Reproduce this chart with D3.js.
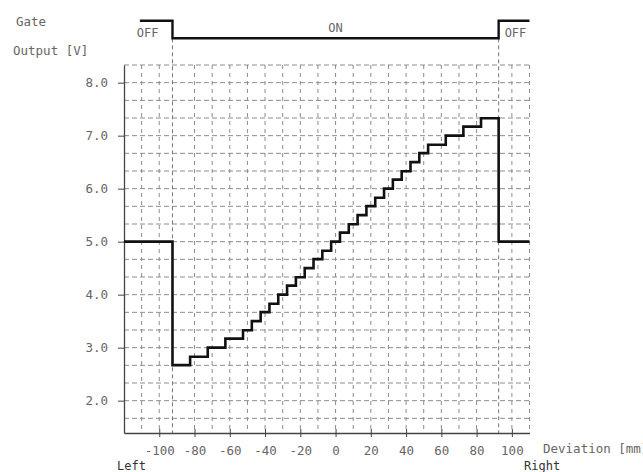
<!DOCTYPE html>
<html>
<head>
<meta charset="utf-8">
<script src="https://cdn.jsdelivr.net/npm/d3@7"></script>
<style>
  body { margin: 0; background: #fff; }
  svg { display: block; }
  text { font-family: "DejaVu Sans Mono", "Liberation Mono", monospace; }
</style>
</head>
<body>
<svg id="chart" width="643" height="472"></svg>
<script>
// deviation [mm] where each output step starts
var devX = [-120, -92.5, -82.5, -72.5, -62.5, -52.5, -47.5, -42.5, -37.5, -32.5, -27.5,
            -22.5, -17.5, -12.5, -7.5, -2.5, 2.5, 7.5, 12.5, 17.5, 22.5, 27.5, 32.5,
            37.5, 42.5, 47.5, 52.5, 62.5, 72.5, 82.5, 92.5, 110];
// output voltage [V] of each step
var outV = [5.0, 2.67, 2.83, 3.0, 3.17, 3.33, 3.5, 3.67, 3.83, 4.0, 4.17,
            4.33, 4.5, 4.67, 4.83, 5.0, 5.17, 5.33, 5.5, 5.67, 5.83, 6.0, 6.17,
            6.33, 6.5, 6.67, 6.83, 7.0, 7.17, 7.33, 5.0, 5.0];
// gate signal
var gateX = [-111, -92.5, 92.5, 110];
var gateState = [1, 0, 1, 1];
var gateLabels = ["OFF", "ON", "OFF"];
var yTicks = [2.0, 3.0, 4.0, 5.0, 6.0, 7.0, 8.0];
var xTicks = [-100, -80, -60, -40, -20, 0, 20, 40, 60, 80, 100];

var svg = d3.select("#chart");
var plotLeft = 124, plotRight = 529.5, plotTop = 65, plotBottom = 433;

var x = d3.scaleLinear().domain([-120, 110]).range([plotLeft, plotRight]);
var y = d3.scaleLinear().domain([1.39, 25/3]).range([plotBottom, plotTop]);
var g = d3.scaleLinear().domain([0, 1]).range([38.3, 20.7]);

var gridColor = "#8c8c8c";

// horizontal grid every 1/3 V
var hGrid = d3.range(5, 26).map(function(k) { return k / 3; });
svg.append("g").selectAll("line").data(hGrid).enter().append("line")
    .attr("x1", plotLeft).attr("x2", plotRight)
    .attr("y1", function(d) { return y(d); })
    .attr("y2", function(d) { return y(d); })
    .attr("stroke", gridColor).attr("stroke-width", 1)
    .attr("stroke-dasharray", "5,3");

// vertical grid every 10 mm (±90 sit on the gate edges)
var vGrid = d3.range(-110, 111, 10).filter(function(d) { return Math.abs(d) != 90; });
svg.append("g").selectAll("line").data(vGrid).enter().append("line")
    .attr("x1", function(d) { return x(d); })
    .attr("x2", function(d) { return x(d); })
    .attr("y1", plotTop).attr("y2", plotBottom)
    .attr("stroke", gridColor).attr("stroke-width", 1)
    .attr("stroke-dasharray", "4,4");

// gate edge lines
svg.append("g").selectAll("line").data([gateX[1], gateX[2]]).enter().append("line")
    .attr("x1", function(d) { return x(d); })
    .attr("x2", function(d) { return x(d); })
    .attr("y1", g(0)).attr("y2", plotBottom)
    .attr("stroke", "#777").attr("stroke-width", 1)
    .attr("stroke-dasharray", "4,3");

// axes
var yAxis = d3.axisLeft(y)
    .tickValues(yTicks)
    .tickFormat(d3.format(".1f"))
    .tickSizeInner(6)
    .tickSizeOuter(0)
    .tickPadding(10);
var ya = svg.append("g")
    .attr("transform", "translate(" + plotLeft + ",0)")
    .call(yAxis);
ya.select(".domain").attr("stroke", "#444").attr("stroke-width", 1.3);
ya.selectAll(".tick line").attr("stroke", "#444");
ya.selectAll(".tick text")
    .attr("fill", "#666")
    .attr("font-size", "12.5px")
    .style("font-family", "DejaVu Sans Mono");

var xAxis = d3.axisBottom(x)
    .tickValues(xTicks)
    .tickFormat(function(d) { return d; })
    .tickSizeInner(4)
    .tickSizeOuter(0)
    .tickPadding(9);
var xa = svg.append("g")
    .attr("transform", "translate(0," + plotBottom + ")")
    .call(xAxis);
xa.select(".domain").attr("stroke", "#444").attr("stroke-width", 1.3);
xa.selectAll(".tick line").attr("stroke", "#444").attr("y1", -4);
xa.selectAll(".tick text")
    .attr("fill", "#666")
    .attr("font-size", "12.5px")
    .style("font-family", "DejaVu Sans Mono");

// output curve
var pts = devX.map(function(d, i) { return [d, outV[i]]; });
svg.append("path")
    .datum(pts)
    .attr("fill", "none")
    .attr("stroke", "#111")
    .attr("stroke-width", 2.6)
    .attr("d", d3.line()
        .x(function(d) { return x(d[0]); })
        .y(function(d) { return y(d[1]); })
        .curve(d3.curveStepAfter));

// gate waveform
var gpts = gateX.map(function(d, i) { return [d, gateState[i]]; });
svg.append("path")
    .datum(gpts)
    .attr("fill", "none")
    .attr("stroke", "#111")
    .attr("stroke-width", 2.4)
    .attr("d", d3.line()
        .x(function(d) { return x(d[0]); })
        .y(function(d) { return g(d[1]); })
        .curve(d3.curveStepAfter));

var lab = svg.append("g").attr("fill", "#666").attr("font-size", "12px");
lab.append("text").attr("x", x(gateX[0]) - 3).attr("y", 37).text(gateLabels[0]);
lab.append("text").attr("x", x(0)).attr("y", 32).attr("text-anchor", "middle").text(gateLabels[1]);
lab.append("text").attr("x", x(gateX[2]) + 6).attr("y", 37).text(gateLabels[2]);

lab.append("text").attr("x", 16).attr("y", 26).attr("font-size", "12.5px").text("Gate");
lab.append("text").attr("x", 13).attr("y", 55).attr("font-size", "12.5px").text("Output [V]");
lab.append("text").attr("x", 543).attr("y", 453).attr("font-size", "12.5px").text("Deviation [mm]");
lab.append("text").attr("x", 117).attr("y", 470).attr("fill", "#333").attr("font-size", "12px").text("Left");
lab.append("text").attr("x", 524).attr("y", 470).attr("fill", "#333").attr("font-size", "12px").text("Right");
</script>
</body>
</html>
